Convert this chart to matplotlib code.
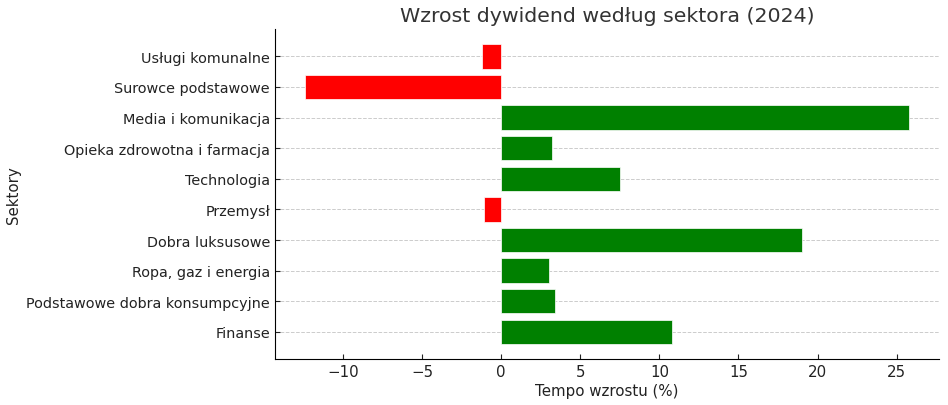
import matplotlib.pyplot as plt

sectors = ["Finanse", "Podstawowe dobra konsumpcyjne", "Ropa, gaz i energia",
           "Dobra luksusowe", "Przemysł", "Technologia",
           "Opieka zdrowotna i farmacja", "Media i komunikacja",
           "Surowce podstawowe", "Usługi komunalne"]
growth = [10.8, 3.4, 3.0, 19.0, -1.1, 7.5, 3.2, 25.8, -12.4, -1.2]

colors = ['green' if g >= 0 else 'red' for g in growth]

fig, ax = plt.subplots(figsize=(9.48, 4.06), dpi=100)
ax.barh(sectors, growth, color=colors, height=0.8, edgecolor='white', linewidth=0.5)
ax.set_title("Wzrost dywidend według sektora (2024)", fontsize=14.75, color='#333333')
ax.set_xlabel("Tempo wzrostu (%)", fontsize=10.8, color='#222222', labelpad=3)
ax.set_ylabel("Sektory", fontsize=10.8, color='#222222')
ax.tick_params(axis='y', labelsize=10.4, colors='#222222', direction='in')
ax.tick_params(axis='x', labelsize=10.8, colors='#222222', direction='in')
ax.grid(axis='y', linestyle='--', color='#cccccc', linewidth=0.7)
ax.set_axisbelow(True)
ax.spines['top'].set_visible(False)
ax.spines['right'].set_visible(False)
fig.subplots_adjust(left=0.29, right=0.991, top=0.926, bottom=0.113)
plt.savefig("out.png")
